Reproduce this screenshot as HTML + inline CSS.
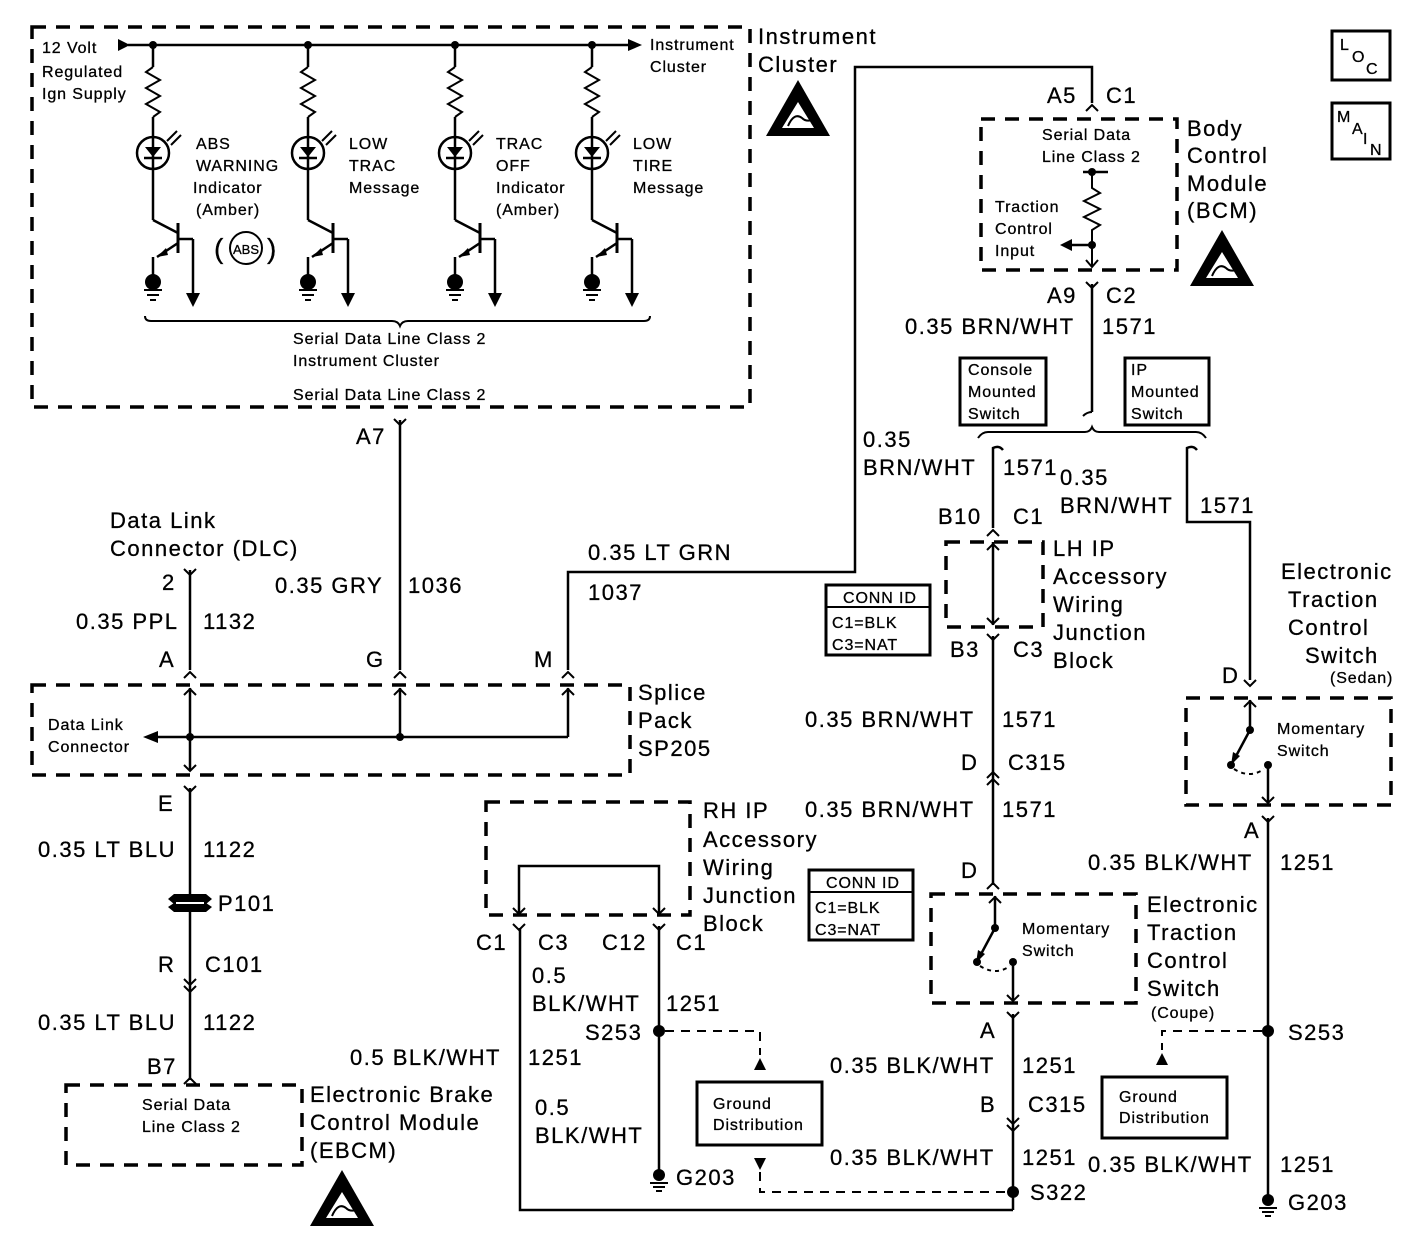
<!DOCTYPE html>
<html><head><meta charset="utf-8"><style>
html,body{margin:0;padding:0;background:#fff}
svg{display:block}
text{font-family:"Liberation Sans",Arial,sans-serif;fill:#000;stroke:#000;stroke-width:0.3}
.b{font-size:22px;letter-spacing:1.5px}
.s{font-size:16px;letter-spacing:0.9px}
.w{stroke:#000;stroke-width:2.5;fill:none}
.t{stroke:#000;stroke-width:2;fill:none}
.d{stroke:#000;stroke-width:3.5;fill:none;stroke-dasharray:14 10}
.dd{stroke:#000;stroke-width:2;fill:none;stroke-dasharray:9 7}
.bx{stroke:#000;stroke-width:3;fill:#fff}
</style></head><body>
<svg width="1425" height="1248" viewBox="0 0 1425 1248" xmlns="http://www.w3.org/2000/svg">
<defs>
<g id="br"><g transform="translate(0,0)">
<line class="w" x1="0" y1="0" x2="0" y2="22"/>
<polyline class="t" points="0,22 -7,27 7,35 -7,43 7,51 -7,59 7,67 0,72"/>
<line class="w" x1="0" y1="72" x2="0" y2="92"/>
<circle class="w" cx="0" cy="108" r="16"/>
<polygon points="-8,102 8,102 0,112" fill="#000"/>
<line class="w" x1="-9" y1="113" x2="9" y2="113"/>
<line class="w" x1="0" y1="92" x2="0" y2="124"/>
<line class="t" x1="14" y1="96" x2="24" y2="86"/><line class="t" x1="18" y1="100" x2="28" y2="90"/>
<line class="w" x1="0" y1="124" x2="0" y2="175"/>
<line class="w" x1="0" y1="175" x2="25" y2="188"/>
<line x1="25" y1="178" x2="25" y2="208" stroke="#000" stroke-width="3"/>
<line class="w" x1="25" y1="194" x2="40" y2="194"/>
<line class="w" x1="40" y1="194" x2="40" y2="250"/>
<polygon points="33,248 47,248 40,262" fill="#000"/>
<line class="w" x1="25" y1="198" x2="4" y2="212"/>
<polygon points="4,212 13,203 15,210" fill="#000"/>
<line class="w" x1="0" y1="212" x2="0" y2="232"/>
<circle cx="0" cy="237" r="8" fill="#000"/>
<line class="t" x1="-9" y1="245" x2="9" y2="245"/><line class="t" x1="-6" y1="250" x2="6" y2="250"/><line class="t" x1="-3" y1="255" x2="3" y2="255"/>
</g></g>
<g id="esd"><polygon points="32,0 64,56 0,56" fill="#000"/><polygon points="32,22 48,48 16,48" fill="#fff"/><path d="M22,46 q6,-14 14,-8 q4,4 10,2" stroke="#000" stroke-width="2" fill="none"/></g>
<g id="cv"><polyline class="t" points="-6,6 0,0 6,6"/></g>
<g id="cd"><polyline class="t" points="-6,-6 0,0 6,-6"/></g>
<g id="gnd"><circle cx="0" cy="0" r="6" fill="#000"/><line class="t" x1="-9" y1="8" x2="9" y2="8"/><line class="t" x1="-6" y1="12" x2="6" y2="12"/><line class="t" x1="-3" y1="16" x2="3" y2="16"/></g>
</defs>

<rect class="d" x="32" y="27" width="718" height="380"/>
<polygon points="118,39 130,45 118,51" fill="#000"/>
<line class="w" x1="128" y1="45" x2="630" y2="45"/>
<polygon points="628,39 642,45 628,51" fill="#000"/>
<circle cx="153" cy="45" r="4" fill="#000"/><circle cx="308" cy="45" r="4" fill="#000"/><circle cx="455" cy="45" r="4" fill="#000"/><circle cx="592" cy="45" r="4" fill="#000"/>
<use href="#br" x="153" y="45"/><use href="#br" x="308" y="45"/><use href="#br" x="455" y="45"/><use href="#br" x="592" y="45"/>
<text class="s" x="42" y="53">12 Volt</text><text class="s" x="42" y="77">Regulated</text><text class="s" x="42" y="99">Ign Supply</text>
<text class="s" x="650" y="50">Instrument</text><text class="s" x="650" y="72">Cluster</text>
<text class="s" x="196" y="149">ABS</text><text class="s" x="196" y="171">WARNING</text><text class="s" x="193" y="193">Indicator</text><text class="s" x="196" y="215">(Amber)</text>
<circle class="t" cx="246" cy="248" r="16"/><text x="233" y="254" style="font-size:13px">ABS</text>
<text x="214" y="258" style="font-size:28px">(</text><text x="267" y="258" style="font-size:28px">)</text>
<text class="s" x="349" y="149">LOW</text><text class="s" x="349" y="171">TRAC</text><text class="s" x="349" y="193">Message</text>
<text class="s" x="496" y="149">TRAC</text><text class="s" x="496" y="171">OFF</text><text class="s" x="496" y="193">Indicator</text><text class="s" x="496" y="215">(Amber)</text>
<text class="s" x="633" y="149">LOW</text><text class="s" x="633" y="171">TIRE</text><text class="s" x="633" y="193">Message</text>
<path class="t" d="M145,316 q0,5 6,5 L392,321 q6,0 8,5 q2,-5 8,-5 L644,321 q6,0 6,-5"/>
<text class="s" x="293" y="344">Serial Data Line Class 2</text><text class="s" x="293" y="366">Instrument Cluster</text>
<text class="s" x="293" y="400">Serial Data Line Class 2</text>
<text class="b" x="758" y="44">Instrument</text><text class="b" x="758" y="72">Cluster</text>
<use href="#esd" x="766" y="80"/>

<use href="#cd" x="400" y="425"/>
<line class="w" x1="400" y1="420" x2="400" y2="670"/>
<text class="b" x="356" y="444">A7</text>
<text class="b" x="275" y="593">0.35 GRY</text><text class="b" x="408" y="593">1036</text>
<text class="b" x="366" y="667">G</text><use href="#cv" x="400" y="672"/>

<text class="b" x="110" y="528">Data Link</text><text class="b" x="110" y="556">Connector (DLC)</text>
<use href="#cd" x="190" y="575"/>
<line class="w" x1="190" y1="570" x2="190" y2="670"/>
<text class="b" x="162" y="590">2</text>
<text class="b" x="76" y="629">0.35 PPL</text><text class="b" x="203" y="629">1132</text>
<text class="b" x="159" y="667">A</text><use href="#cv" x="190" y="672"/>

<polyline class="w" points="568,670 568,572 855,572 855,67 1092,67 1092,103"/>
<text class="b" x="588" y="560">0.35 LT GRN</text><text class="b" x="588" y="600">1037</text>
<text class="b" x="534" y="667">M</text><use href="#cv" x="568" y="672"/>

<rect class="d" x="32" y="685" width="598" height="90"/>
<line class="w" x1="190" y1="688" x2="190" y2="770"/>
<use href="#cv" x="190" y="689"/><use href="#cd" x="190" y="771"/>
<line class="w" x1="400" y1="688" x2="400" y2="737"/><use href="#cv" x="400" y="689"/>
<line class="w" x1="568" y1="688" x2="568" y2="737"/><use href="#cv" x="568" y="689"/>
<line class="w" x1="155" y1="737" x2="568" y2="737"/>
<polygon points="143,737 158,731 158,743" fill="#000"/>
<circle cx="190" cy="737" r="4" fill="#000"/><circle cx="400" cy="737" r="4" fill="#000"/>
<text class="s" x="48" y="730">Data Link</text><text class="s" x="48" y="752">Connector</text>
<text class="b" x="638" y="700">Splice</text><text class="b" x="638" y="728">Pack</text><text class="b" x="638" y="756">SP205</text>

<use href="#cd" x="190" y="792"/>
<line class="w" x1="190" y1="788" x2="190" y2="1080"/>
<text class="b" x="158" y="811">E</text>
<text class="b" x="38" y="857">0.35 LT BLU</text><text class="b" x="203" y="857">1122</text>
<path d="M174,894 L206,894 L212,899 L206,904 L174,904 L168,899 Z M174,903 L206,903 L212,907 L206,912 L174,912 L168,907 Z" fill="#000"/>
<line x1="176" y1="903" x2="204" y2="903" stroke="#fff" stroke-width="2"/>
<text class="b" x="218" y="911">P101</text>
<text class="b" x="158" y="972">R</text><text class="b" x="205" y="972">C101</text>
<use href="#cd" x="190" y="985"/><use href="#cd" x="190" y="992"/>
<text class="b" x="38" y="1030">0.35 LT BLU</text><text class="b" x="203" y="1030">1122</text>
<text class="b" x="147" y="1074">B7</text><use href="#cv" x="190" y="1078"/>
<rect class="d" x="66" y="1085" width="236" height="80"/>
<text class="s" x="142" y="1110">Serial Data</text><text class="s" x="142" y="1132">Line Class 2</text>
<text class="b" x="310" y="1102">Electronic Brake</text><text class="b" x="310" y="1130">Control Module</text><text class="b" x="310" y="1158">(EBCM)</text>
<use href="#esd" x="310" y="1170"/>

<text class="b" x="1047" y="103">A5</text><text class="b" x="1106" y="103">C1</text>
<use href="#cv" x="1092" y="105"/>
<rect class="d" x="981" y="119" width="196" height="151"/>
<text class="s" x="1042" y="140">Serial Data</text><text class="s" x="1042" y="162">Line Class 2</text>
<line class="w" x1="1083" y1="172" x2="1108" y2="172"/><circle cx="1092" cy="172" r="4" fill="#000"/>
<polyline class="t" points="1092,172 1092,188 1100,193 1084,201 1100,209 1084,217 1100,225 1092,230 1092,266"/>
<circle cx="1092" cy="245" r="4" fill="#000"/>
<line class="w" x1="1070" y1="245" x2="1092" y2="245"/><polygon points="1060,245 1072,239 1072,251" fill="#000"/>
<polyline class="t" points="1086,260 1092,267 1098,260"/>
<text class="s" x="995" y="212">Traction</text><text class="s" x="995" y="234">Control</text><text class="s" x="995" y="256">Input</text>
<text class="b" x="1187" y="136">Body</text><text class="b" x="1187" y="163">Control</text><text class="b" x="1187" y="191">Module</text><text class="b" x="1187" y="218">(BCM)</text>
<use href="#esd" x="1190" y="230"/>
<use href="#cd" x="1092" y="288"/>
<text class="b" x="1047" y="303">A9</text><text class="b" x="1106" y="303">C2</text>
<line class="w" x1="1092" y1="284" x2="1092" y2="412"/>
<path class="t" d="M1083,416 q4,-4 9,-4"/>
<text class="b" x="905" y="334">0.35 BRN/WHT</text><text class="b" x="1102" y="334">1571</text>
<rect class="bx" x="960" y="358" width="86" height="67"/>
<text class="s" x="968" y="375">Console</text><text class="s" x="968" y="397">Mounted</text><text class="s" x="968" y="419">Switch</text>
<rect class="bx" x="1125" y="358" width="84" height="67"/>
<text class="s" x="1131" y="375">IP</text><text class="s" x="1131" y="397">Mounted</text><text class="s" x="1131" y="419">Switch</text>
<path class="t" d="M978,438 q4,-6 10,-6 L1085,432 q5,0 7,-5 q2,5 7,5 L1196,432 q6,0 10,6"/>
<path class="w" d="M993,528 L993,448 q6,-3 10,2"/>
<text class="b" x="863" y="447">0.35</text><text class="b" x="863" y="475">BRN/WHT</text><text class="b" x="1003" y="475">1571</text>
<text class="b" x="938" y="524">B10</text><text class="b" x="1013" y="524">C1</text>
<use href="#cv" x="993" y="530"/>
<rect class="d" x="946" y="542" width="97" height="85"/>
<line class="w" x1="993" y1="542" x2="993" y2="625"/>
<use href="#cv" x="993" y="544"/><use href="#cd" x="993" y="624"/>
<use href="#cd" x="993" y="640"/>
<text class="b" x="950" y="657">B3</text><text class="b" x="1013" y="657">C3</text>
<text class="b" x="1053" y="556">LH IP</text><text class="b" x="1053" y="584">Accessory</text><text class="b" x="1053" y="612">Wiring</text><text class="b" x="1053" y="640">Junction</text><text class="b" x="1053" y="668">Block</text>
<rect class="bx" x="826" y="585" width="104" height="70"/><line class="t" x1="826" y1="607" x2="930" y2="607"/>
<text class="s" x="843" y="603">CONN ID</text><text class="s" x="832" y="628">C1=BLK</text><text class="s" x="832" y="650">C3=NAT</text>
<line class="w" x1="993" y1="636" x2="993" y2="885"/>
<text class="b" x="805" y="727">0.35 BRN/WHT</text><text class="b" x="1002" y="727">1571</text>
<text class="b" x="961" y="770">D</text><text class="b" x="1008" y="770">C315</text>
<use href="#cv" x="993" y="772"/><use href="#cv" x="993" y="779"/>
<text class="b" x="805" y="817">0.35 BRN/WHT</text><text class="b" x="1002" y="817">1571</text>
<text class="b" x="961" y="878">D</text><use href="#cv" x="993" y="883"/>
<rect class="bx" x="809" y="870" width="104" height="70"/><line class="t" x1="809" y1="892" x2="913" y2="892"/>
<text class="s" x="826" y="888">CONN ID</text><text class="s" x="815" y="913">C1=BLK</text><text class="s" x="815" y="935">C3=NAT</text>
<rect class="d" x="931" y="894" width="205" height="109"/>
<line class="w" x1="995" y1="896" x2="995" y2="928"/><use href="#cv" x="995" y="897"/>
<circle cx="995" cy="928" r="4" fill="#000"/><line class="w" x1="995" y1="928" x2="980" y2="956"/>
<polygon points="976,963 978,950 985,954" fill="#000"/>
<circle cx="977" cy="962" r="4" fill="#000"/><circle cx="1013" cy="962" r="4" fill="#000"/>
<path class="t" d="M980,966 q16,10 30,0" stroke-dasharray="4 4"/>
<line class="w" x1="1013" y1="962" x2="1013" y2="1000"/><use href="#cd" x="1013" y="1001"/>
<text class="s" x="1022" y="934">Momentary</text><text class="s" x="1022" y="956">Switch</text>
<text class="b" x="1147" y="912">Electronic</text><text class="b" x="1147" y="940">Traction</text><text class="b" x="1147" y="968">Control</text><text class="b" x="1147" y="996">Switch</text><text class="s" x="1151" y="1018">(Coupe)</text>
<use href="#cd" x="1013" y="1018"/>
<line class="w" x1="1013" y1="1014" x2="1013" y2="1210"/>
<text class="b" x="980" y="1038">A</text>
<text class="b" x="830" y="1073">0.35 BLK/WHT</text><text class="b" x="1022" y="1073">1251</text>
<text class="b" x="980" y="1112">B</text><text class="b" x="1028" y="1112">C315</text>
<use href="#cd" x="1013" y="1124"/><use href="#cd" x="1013" y="1131"/>
<text class="b" x="830" y="1165">0.35 BLK/WHT</text><text class="b" x="1022" y="1165">1251</text>
<circle cx="1013" cy="1192" r="6" fill="#000"/><text class="b" x="1030" y="1200">S322</text>
<polyline class="w" points="1013,1210 520,1210 520,928"/>
<rect class="d" x="486" y="802" width="204" height="113"/>
<polyline class="w" points="519,913 519,866 659,866 659,913"/>
<use href="#cd" x="519" y="914"/><use href="#cd" x="659" y="914"/>
<use href="#cd" x="519" y="930"/><use href="#cd" x="659" y="930"/>
<text class="b" x="703" y="818">RH IP</text><text class="b" x="703" y="847">Accessory</text><text class="b" x="703" y="875">Wiring</text><text class="b" x="703" y="903">Junction</text><text class="b" x="703" y="931">Block</text>
<text class="b" x="476" y="950">C1</text><text class="b" x="538" y="950">C3</text><text class="b" x="602" y="950">C12</text><text class="b" x="676" y="950">C1</text>
<line class="w" x1="659" y1="926" x2="659" y2="1170"/>
<text class="b" x="532" y="983">0.5</text><text class="b" x="532" y="1011">BLK/WHT</text><text class="b" x="666" y="1011">1251</text>
<circle cx="659" cy="1031" r="6" fill="#000"/><text class="b" x="585" y="1040">S253</text>
<polyline class="dd" points="665,1031 760,1031 760,1055"/>
<polygon points="754,1070 766,1070 760,1058" fill="#000"/>
<rect class="bx" x="697" y="1082" width="125" height="63"/>
<text class="s" x="713" y="1109">Ground</text><text class="s" x="713" y="1130">Distribution</text>
<polygon points="754,1158 766,1158 760,1170" fill="#000"/>
<polyline class="dd" points="760,1172 760,1192 1007,1192"/>
<text class="b" x="350" y="1065">0.5 BLK/WHT</text><text class="b" x="528" y="1065">1251</text>
<text class="b" x="535" y="1115">0.5</text><text class="b" x="535" y="1143">BLK/WHT</text>
<use href="#gnd" x="659" y="1175"/><text class="b" x="676" y="1185">G203</text>

<path class="w" d="M1250,680 L1250,522 L1187,522 L1187,448 q6,-3 10,2"/>
<text class="b" x="1060" y="485">0.35</text><text class="b" x="1060" y="513">BRN/WHT</text><text class="b" x="1200" y="513">1571</text>
<text class="b" x="1281" y="579">Electronic</text><text class="b" x="1288" y="607">Traction</text><text class="b" x="1288" y="635">Control</text><text class="b" x="1305" y="663">Switch</text><text class="s" x="1330" y="683">(Sedan)</text>
<text class="b" x="1222" y="683">D</text><use href="#cd" x="1250" y="686"/>
<rect class="d" x="1186" y="698" width="205" height="107"/>
<line class="w" x1="1250" y1="700" x2="1250" y2="730"/><use href="#cv" x="1250" y="701"/>
<circle cx="1250" cy="730" r="4" fill="#000"/><line class="w" x1="1250" y1="730" x2="1235" y2="758"/>
<polygon points="1231,765 1233,752 1240,756" fill="#000"/>
<circle cx="1231" cy="765" r="4" fill="#000"/><circle cx="1268" cy="765" r="4" fill="#000"/>
<path class="t" d="M1234,769 q16,10 30,0" stroke-dasharray="4 4"/>
<line class="w" x1="1268" y1="765" x2="1268" y2="802"/><use href="#cd" x="1268" y="803"/>
<text class="s" x="1277" y="734">Momentary</text><text class="s" x="1277" y="756">Switch</text>
<text class="b" x="1244" y="838">A</text><use href="#cd" x="1268" y="822"/>
<line class="w" x1="1268" y1="818" x2="1268" y2="1195"/>
<text class="b" x="1088" y="870">0.35 BLK/WHT</text><text class="b" x="1280" y="870">1251</text>
<circle cx="1268" cy="1031" r="6" fill="#000"/><text class="b" x="1288" y="1040">S253</text>
<polyline class="dd" points="1262,1031 1162,1031 1162,1050"/>
<polygon points="1156,1065 1168,1065 1162,1053" fill="#000"/>
<rect class="bx" x="1102" y="1077" width="125" height="61"/>
<text class="s" x="1119" y="1102">Ground</text><text class="s" x="1119" y="1123">Distribution</text>
<text class="b" x="1088" y="1172">0.35 BLK/WHT</text><text class="b" x="1280" y="1172">1251</text>
<use href="#gnd" x="1268" y="1200"/><text class="b" x="1288" y="1210">G203</text>

<rect class="bx" x="1332" y="31" width="58" height="49"/>
<text class="s" x="1340" y="50">L</text><text class="s" x="1352" y="62">O</text><text class="s" x="1366" y="74">C</text>
<rect class="bx" x="1332" y="103" width="58" height="56"/>
<text class="s" x="1337" y="122">M</text><text class="s" x="1352" y="134">A</text><text class="s" x="1363" y="144">I</text><text class="s" x="1370" y="155">N</text>
</svg>
</body></html>
